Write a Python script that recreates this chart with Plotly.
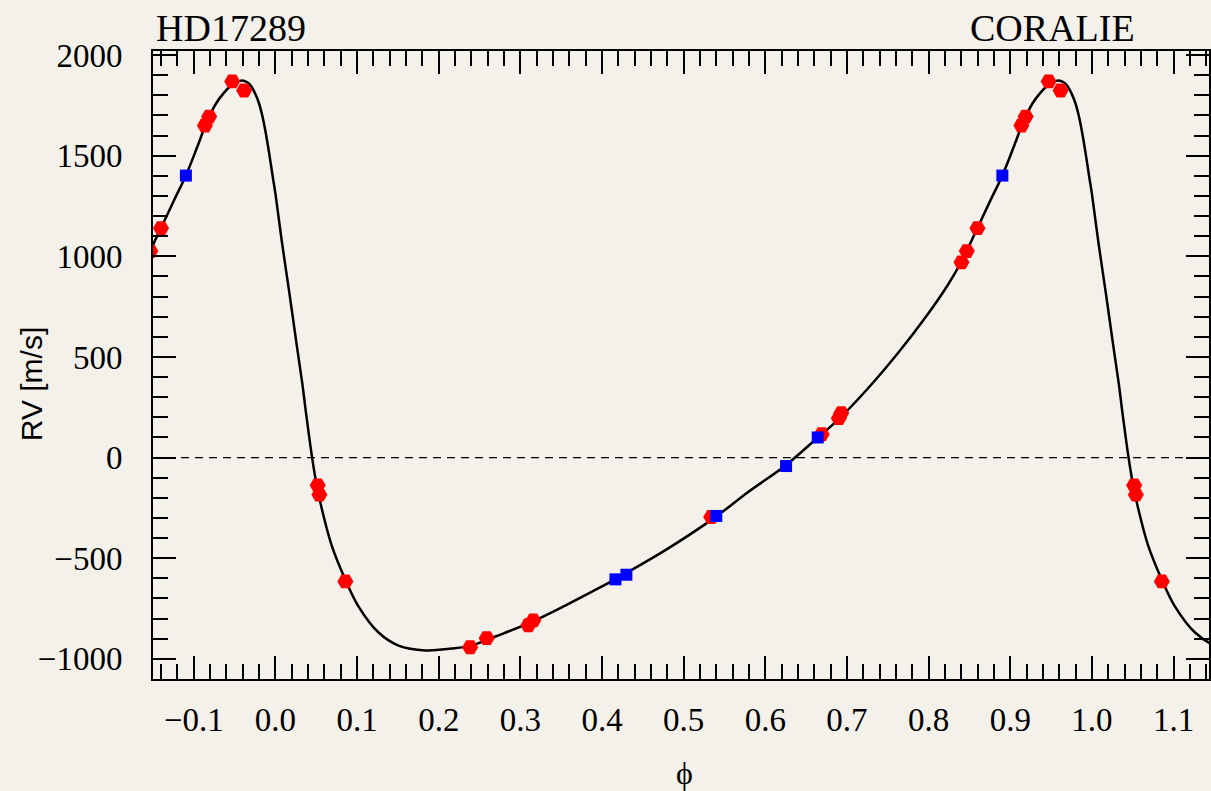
import numpy as np
import plotly.graph_objects as go

# Orbital model curve over one period (phase, radial velocity in m/s)
curve_phase = [-0.1598, -0.1402, -0.1243, -0.1097, -0.0962, -0.0840, -0.0730, -0.0632, -0.0546, -0.0473,
               -0.0408, -0.0351, -0.0306, -0.0253, -0.0204, -0.0161, -0.0119, -0.0076, -0.0033, 0.0000,
               0.0081, 0.0171, 0.0257, 0.0328, 0.0370, 0.0447, 0.0505, 0.0566, 0.0688, 0.0860,
               0.1018, 0.1263, 0.1507, 0.1837, 0.2155, 0.2400, 0.2693, 0.3097, 0.3549, 0.3952,
               0.4197, 0.4771, 0.5383, 0.5786, 0.6251, 0.6605, 0.6886, 0.7253, 0.7620, 0.7987,
               0.8231]
curve_rv = [974, 1141, 1278, 1402, 1539, 1668, 1758, 1812, 1847, 1867,
            1874, 1866, 1850, 1812, 1763, 1698, 1613, 1509, 1394, 1310,
            1065, 816, 569, 370, 235, 5, -138, -252, -436, -610,
            -740, -869, -934, -958, -949, -934, -889, -824, -735, -650,
            -596, -461, -297, -172, -38, 86, 186, 342, 517, 711,
            855]

# CORALIE measurements, set 1 (phase in [0, 1), RV in m/s)
red_phase = [0.0517, 0.0538, 0.0856, 0.2384, 0.2587, 0.3097, 0.3158, 0.5337, 0.6690, 0.6900,
             0.6930, 0.8402, 0.8467, 0.8598, 0.9136, 0.9188, 0.9470, 0.9616]
red_rv = [-138, -184, -615, -942, -897, -833, -809, -295, 116, 196,
          221, 970, 1026, 1140, 1650, 1694, 1869, 1824]

# CORALIE measurements, set 2
blue_phase = [0.4164, 0.4298, 0.5399, 0.6254, 0.6642, 0.8903]
blue_rv = [-605, -582, -290, -42, 100, 1401]

X_RANGE = [-0.15, 1.1434]
Y_RANGE = [-1100, 2020]


def fold(phase, rv, lo=-0.17, hi=1.17):
    """Repeat phase-folded points one cycle either side and keep those near the window."""
    p = np.asarray(phase, dtype=float)
    v = np.asarray(rv, dtype=float)
    ps = np.concatenate([p - 1, p, p + 1])
    vs = np.concatenate([v, v, v])
    keep = (ps >= lo) & (ps <= hi)
    return ps[keep], vs[keep]


bg = "#f4f1eb"
fig = go.Figure()

cp = np.asarray(curve_phase)
cv = np.asarray(curve_rv, dtype=float)
fig.add_trace(go.Scatter(
    x=np.concatenate([cp, cp + 1]), y=np.concatenate([cv, cv]),
    mode="lines", line=dict(color="black", width=2.5, shape="spline", smoothing=1.0),
    hoverinfo="skip", showlegend=False))

rx, ry = fold(red_phase, red_rv)
fig.add_trace(go.Scatter(
    x=rx, y=ry, mode="markers",
    marker=dict(symbol="hexagon2", size=16, color="#ff0000", line=dict(width=0)),
    showlegend=False))

bx, by = fold(blue_phase, blue_rv)
fig.add_trace(go.Scatter(
    x=bx, y=by, mode="markers",
    marker=dict(symbol="square", size=12, color="#0000ff", line=dict(width=0)),
    showlegend=False))

fig.add_hline(y=0, line=dict(color="black", width=1.2, dash="8px,6px"))

serif = "Liberation Serif"
axis_common = dict(
    showline=True, linecolor="black", linewidth=2, mirror="allticks",
    ticks="inside", ticklen=23, tickwidth=2, tickcolor="black",
    showgrid=False, zeroline=False,
    tickfont=dict(family=serif, size=33, color="black"),
)

fig.update_xaxes(range=X_RANGE, tick0=0, dtick=0.1, tickformat=".1f",
                 minor=dict(dtick=0.02, ticks="inside", ticklen=15, tickwidth=2, tickcolor="black"),
                 ticklabelstandoff=10, **axis_common)
fig.update_yaxes(range=Y_RANGE, tick0=0, dtick=500,
                 minor=dict(dtick=100, ticks="inside", ticklen=15, tickwidth=2, tickcolor="black"),
                 ticklabelstandoff=22, **axis_common)

L, T, B = 153, 51, 112
W, H = 1211, 791
pw, ph = W - L, H - T - B


def px(xp):
    return (xp - L) / pw


def py(yp):
    return (H - B - yp) / ph


fig.add_annotation(text="HD17289", x=px(154), y=py(28), xref="paper", yref="paper",
                   xanchor="left", yanchor="middle", showarrow=False,
                   font=dict(family=serif, size=38, color="black"))
fig.add_annotation(text="CORALIE", x=px(1139), y=py(28), xref="paper", yref="paper",
                   xanchor="right", yanchor="middle", showarrow=False,
                   font=dict(family=serif, size=38, color="black"))
fig.add_annotation(text="RV [m/s]", x=px(32), y=py(384), xref="paper", yref="paper",
                   xanchor="center", yanchor="middle", textangle=-90, showarrow=False,
                   font=dict(family="Liberation Sans", size=30, color="black"))
fig.add_annotation(text="ϕ", x=px(686), y=py(773), xref="paper", yref="paper",
                   xanchor="center", yanchor="middle", showarrow=False,
                   font=dict(family=serif, size=32, color="black"))

fig.update_layout(
    width=W, height=H,
    margin=dict(l=L, r=0, t=T, b=B, pad=0),
    paper_bgcolor=bg, plot_bgcolor=bg,
    showlegend=False,
)

fig.write_html("out.html")
